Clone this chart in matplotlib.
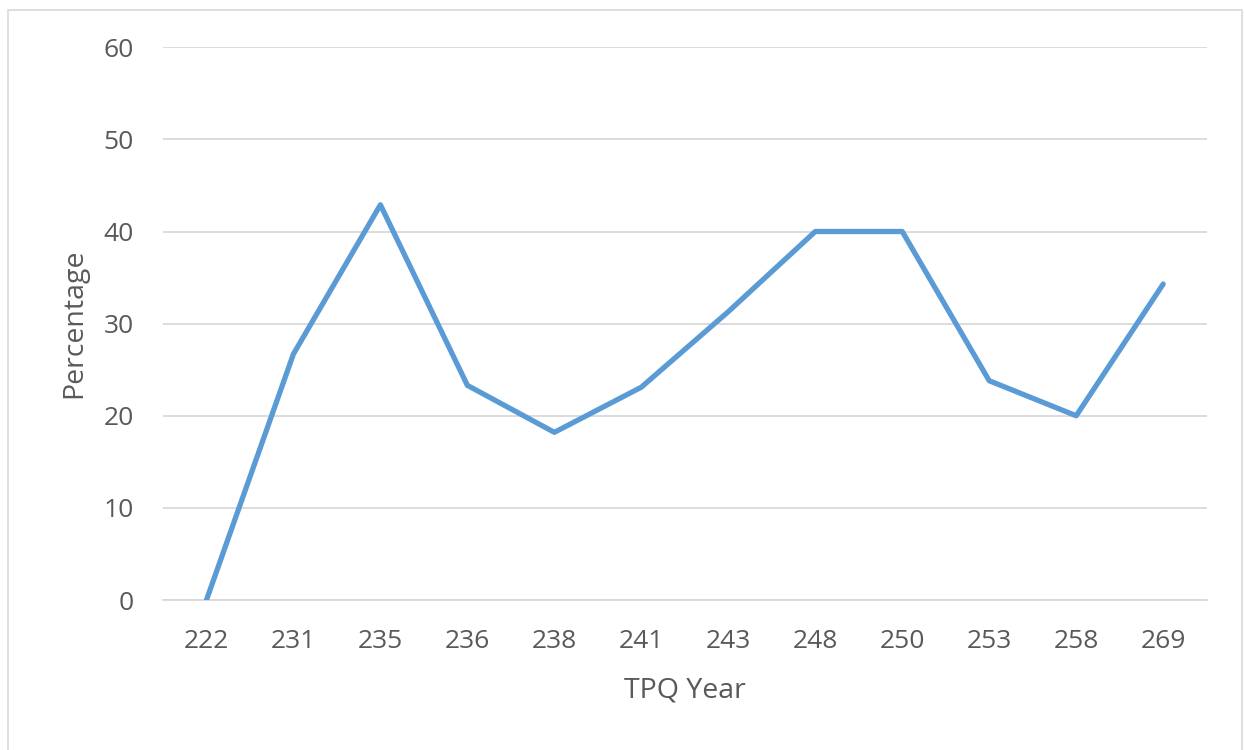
import matplotlib.pyplot as plt
from matplotlib.patches import Rectangle

plt.rcParams['font.family'] = ['Open Sans', 'DejaVu Sans']

years = ["222", "231", "235", "236", "238", "241", "243", "248", "250", "253", "258", "269"]
percentage = [0, 26.7, 42.9, 23.3, 18.2, 23.1, 31.3, 40, 40, 23.8, 20, 34.3]
y_ticks = [0, 10, 20, 30, 40, 50, 60]

fig = plt.figure(figsize=(12.44, 7.5), dpi=100)
ax = fig.add_axes([0.131, 0.2, 0.839, 0.737])

# chart border like the Excel chart area
fig.patches.append(Rectangle((0.0065, -0.01), 0.992, 0.997, transform=fig.transFigure,
                             fill=False, edgecolor="#d9d9d9", linewidth=1.2))

x = range(len(years))
ax.plot(x, percentage, color="#5B9BD5", linewidth=3.8, solid_capstyle="round",
        solid_joinstyle="round", zorder=3)

ax.set_xlim(-0.5, len(years) - 0.5)
ax.set_ylim(0, 60)
ax.set_yticks(y_ticks)
ax.set_xticks(list(x))
ax.set_xticklabels(years)
ax.yaxis.grid(True, color="#d9d9d9", linewidth=1.3)
ax.set_axisbelow(True)
for s in ["top", "right", "left"]:
    ax.spines[s].set_visible(False)
ax.spines["bottom"].set_color("#d9d9d9")
ax.spines["bottom"].set_linewidth(1.3)
ax.tick_params(length=0, labelsize=19, colors="#595959")
ax.tick_params(axis="x", pad=21)
ax.tick_params(axis="y", pad=21)

ax.set_xlabel("TPQ Year", fontsize=20.5, color="#595959", labelpad=16)
ax.set_ylabel("Percentage", fontsize=20.5, color="#595959", labelpad=11)

fig.savefig("out.png", dpi=100)
